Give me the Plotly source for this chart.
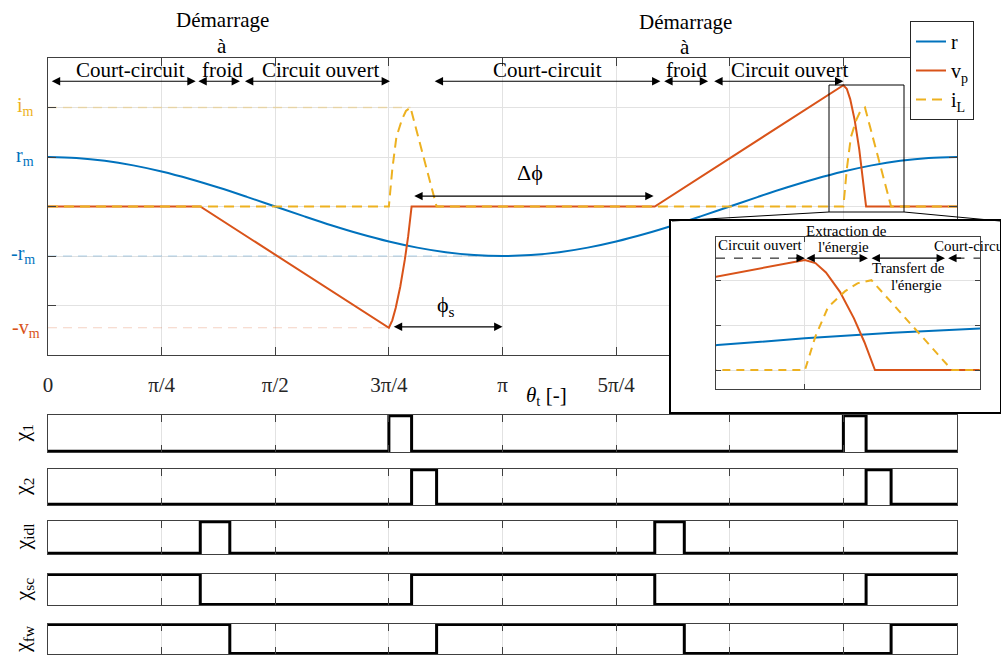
import plotly.graph_objects as go

W, H = 1001, 656
def px(x): return x / W
def py(y): return 1 - y / H

FONT = "Liberation Serif, Times New Roman, serif"
BLUE = "#0072BD"; ORANGE = "#D95319"; YELLOW = "#EDB120"
AX = "#404040"; GRID = "#e2e2e2"; TXT = "#000000"

# ---------------- data (theta_t expressed in units of pi/4) ----------------
tick_vals = [0, 1, 2, 3, 4, 5, 6, 7, 8]
tick_text = ["0", "π/4", "π/2", "3π/4", "π", "5π/4", "3π/2", "7π/4", "2π"]

theta_r = [0, 0.25, 0.5, 0.75, 1, 1.25, 1.5, 1.75, 2, 2.25, 2.5, 2.75, 3, 3.25, 3.5, 3.75,
           4, 4.25, 4.5, 4.75, 5, 5.25, 5.5, 5.75, 6, 6.25, 6.5, 6.75, 7, 7.25, 7.5, 7.75, 8]
r_vals = [1.0, 0.981, 0.924, 0.831, 0.707, 0.556, 0.383, 0.195, 0.0, -0.195, -0.383, -0.556,
          -0.707, -0.831, -0.924, -0.981, -1.0, -0.981, -0.924, -0.831, -0.707, -0.556, -0.383,
          -0.195, 0.0, 0.195, 0.383, 0.556, 0.707, 0.831, 0.924, 0.981, 1.0]

theta_vp = [0, 1.34, 3.0, 3.03, 3.06, 3.1, 3.14, 3.17, 3.2, 5.34, 7.0, 7.03, 7.06, 7.1, 7.14, 7.17, 7.2, 8]
vp_vals = [0, 0, -2.45, -2.30, -2.05, -1.62, -1.08, -0.60, 0, 0, 2.45, 2.38, 2.17, 1.74, 1.15, 0.62, 0, 0]

theta_iL = [0, 3.0, 3.03, 3.066, 3.114, 3.15, 3.19, 3.42, 7.0, 7.03, 7.066, 7.114, 7.15, 7.19, 7.42, 8]
iL_vals = [0, 0, 0.75, 1.4, 1.75, 1.93, 2.0, 0, 0, 0.75, 1.4, 1.75, 1.93, 2.0, 0, 0]

i_m, r_m, v_m = 2.0, 1.0, 2.45

chi_names = ["χ<sub>1</sub>", "χ<sub>2</sub>", "χ<sub>idl</sub>", "χ<sub>sc</sub>", "χ<sub>fw</sub>"]
chi1_t = [0, 3.0, 3.2, 7.0, 7.2, 8];    chi1_v = [0, 1, 0, 1, 0, 0]
chi2_t = [0, 3.2, 3.42, 7.2, 7.42, 8];  chi2_v = [0, 1, 0, 1, 0, 0]
chiidl_t = [0, 1.34, 1.6, 5.34, 5.6, 8]; chiidl_v = [0, 1, 0, 1, 0, 0]
chisc_t = [0, 1.34, 3.2, 5.34, 7.2, 8];  chisc_v = [1, 0, 1, 0, 1, 1]
chifw_t = [0, 1.6, 3.42, 5.6, 7.42, 8];  chifw_v = [1, 0, 1, 0, 1, 1]
chi_series = [(chi1_t, chi1_v), (chi2_t, chi2_v), (chiidl_t, chiidl_v),
              (chisc_t, chisc_v), (chifw_t, chifw_v)]

fig = go.Figure()

# ---------------- main panel ----------------
fig.add_trace(go.Scatter(x=[0, 3.19], y=[i_m, i_m], mode="lines", opacity=0.3,
                         line=dict(color=YELLOW, width=1.5, dash="9px,6px"), showlegend=False, hoverinfo="skip"))
fig.add_trace(go.Scatter(x=[0, 4], y=[-r_m, -r_m], mode="lines", opacity=0.3,
                         line=dict(color=BLUE, width=1.2, dash="9px,6px"), showlegend=False, hoverinfo="skip"))
fig.add_trace(go.Scatter(x=[0, 3.0], y=[-v_m, -v_m], mode="lines", opacity=0.25,
                         line=dict(color=ORANGE, width=1.2, dash="9px,6px"), showlegend=False, hoverinfo="skip"))

fig.add_trace(go.Scatter(x=theta_r, y=r_vals, mode="lines", name="r",
                         line=dict(color=BLUE, width=2, shape="spline")))
fig.add_trace(go.Scatter(x=theta_vp, y=vp_vals, mode="lines", name="v<sub>p</sub>",
                         line=dict(color=ORANGE, width=2)))
fig.add_trace(go.Scatter(x=theta_iL, y=iL_vals, mode="lines", name="i<sub>L</sub>",
                         line=dict(color=YELLOW, width=2, dash="10px,6px")))

# ---------------- switching signals ----------------
for k, (t, v) in enumerate(chi_series):
    n = k + 2
    fig.add_trace(go.Scatter(x=t, y=v, mode="lines", line=dict(color="black", width=3, shape="hv"),
                             xaxis=f"x{n}", yaxis=f"y{n}", showlegend=False, hoverinfo="skip"))

# ---------------- inset frame (dummy subplot) ----------------
fig.add_trace(go.Scatter(x=[], y=[], xaxis="x7", yaxis="y7", showlegend=False, hoverinfo="skip"))

# ---------------- inset ----------------
fig.add_trace(go.Scatter(x=theta_r, y=r_vals, mode="lines", line=dict(color=BLUE, width=2, shape="spline"),
                         xaxis="x8", yaxis="y8", showlegend=False, hoverinfo="skip"))
fig.add_trace(go.Scatter(x=theta_vp, y=vp_vals, mode="lines", line=dict(color=ORANGE, width=2),
                         xaxis="x8", yaxis="y8", showlegend=False, hoverinfo="skip"))
fig.add_trace(go.Scatter(x=theta_iL, y=iL_vals, mode="lines", line=dict(color=YELLOW, width=2, dash="8px,6px"),
                         xaxis="x8", yaxis="y8", showlegend=False, hoverinfo="skip"))

# ---------------- axes ----------------
xdom = [px(48), px(957)]
layout = dict(
    template="none",
    width=W, height=H, margin=dict(l=0, r=0, t=0, b=0, pad=0, autoexpand=False),
    paper_bgcolor="white", plot_bgcolor="white",
    font=dict(family=FONT, size=20, color=TXT),
    showlegend=True,
    legend=dict(x=px(910), y=py(21), xanchor="left", yanchor="top", bgcolor="white",
                bordercolor="#262626", borderwidth=1, font=dict(family=FONT, size=20, color=TXT),
                itemwidth=30, tracegroupgap=0),
)
common = dict(automargin=False, zeroline=False)
layout["xaxis"] = dict(domain=xdom, range=[0, 8], tickvals=tick_vals, ticktext=tick_text,
                       ticks="inside", ticklen=8, tickcolor=AX, showline=True, linecolor=AX, mirror="ticks",
                       showgrid=True, gridcolor=GRID, anchor="y",
                       tickfont=dict(family=FONT, size=21, color="#262626"), ticklabelstandoff=11, **common)
layout["yaxis"] = dict(domain=[py(355), py(58)], range=[-3, 3], tickvals=[-2, -1, 0, 1, 2],
                       showticklabels=False, ticks="inside", ticklen=8, tickcolor=AX, showline=True,
                       linecolor=AX, mirror="ticks", showgrid=True, gridcolor=GRID, anchor="x", **common)

panels = [(415, 452), (469, 505), (521, 554), (574, 605), (624, 654)]
for k, (top, bot) in enumerate(panels):
    n = k + 2
    layout[f"xaxis{n}"] = dict(domain=xdom, range=[0, 8], tickvals=tick_vals, showticklabels=False,
                               ticks="inside", ticklen=7, tickcolor=AX, showline=True, linecolor=AX,
                               mirror="ticks", showgrid=True, gridcolor=GRID, anchor=f"y{n}", **common)
    layout[f"yaxis{n}"] = dict(domain=[py(bot), py(top)], range=[-0.02, 1.02], showticklabels=False,
                               ticks="", showline=True, linecolor=AX, mirror=True, showgrid=False,
                               anchor=f"x{n}", **common)

layout["xaxis7"] = dict(domain=[px(671), px(1000)], range=[0, 1], showticklabels=False, ticks="",
                        showline=True, linecolor="black", linewidth=1.5, mirror=True, showgrid=False,
                        anchor="y7", **common)
layout["yaxis7"] = dict(domain=[py(412), py(221)], range=[0, 1], showticklabels=False, ticks="",
                        showline=True, linecolor="black", linewidth=1.5, mirror=True, showgrid=False,
                        anchor="x7", **common)
layout["xaxis8"] = dict(domain=[px(716), px(980)], range=[6.746, 7.5], tickvals=[7], showticklabels=False,
                        ticks="inside", ticklen=5, tickcolor=AX, showline=True, linecolor=AX, mirror="ticks",
                        showgrid=True, gridcolor=GRID, anchor="y8", **common)
layout["yaxis8"] = dict(domain=[py(389), py(237)], range=[-0.42, 2.96], tickvals=[0, 1, 2],
                        showticklabels=False, ticks="inside", ticklen=5, tickcolor=AX, showline=True,
                        linecolor=AX, mirror="ticks", showgrid=True, gridcolor=GRID,
                        anchor="x8", **common)
fig.update_layout(**layout)

# ---------------- annotations ----------------
ann = []
def text(s, x, y, size=21, color=TXT, xanchor="center", angle=0):
    ann.append(dict(text=s, x=px(x), y=py(y), xref="paper", yref="paper", showarrow=False,
                    xanchor=xanchor, yanchor="middle", textangle=angle,
                    font=dict(family=FONT, size=size, color=color)))

def darrow(x0, x1, y, xr="x", yr="y", both=True):
    ann.append(dict(text="", x=x1, y=y, ax=x0, ay=y, xref=xr, yref=yr, axref=xr, ayref=yr,
                    showarrow=True, arrowhead=2, startarrowhead=2,
                    arrowside="end+start" if both else "end",
                    arrowsize=1.4, startarrowsize=1.4, arrowwidth=1.2, arrowcolor="black",
                    standoff=0, startstandoff=0, font=dict(family=FONT, size=12, color=TXT)))

# top state arrows
ya = 2.53
for a, b in [(0.02, 1.30), (1.31, 1.69), (1.72, 3.01), (3.39, 5.39), (5.41, 5.81), (5.85, 7.0)]:
    darrow(a, b, ya)
text("Court-circuit", 130, 70)
text("Démarrage", 222, 20); text("à", 222, 46); text("froid", 222, 70)
text("Circuit ouvert", 320, 70)
text("Court-circuit", 547, 70)
text("Démarrage", 685, 22); text("à", 685, 47); text("froid", 686, 70)
text("Circuit ouvert", 789, 70)

# phase arrows
darrow(3.21, 5.33, 0.21)
text("Δϕ", 530, 173, size=22)
darrow(3.03, 4.0, -2.43)
text("ϕ<sub>s</sub>", 446, 306, size=22)

# y labels
text("i<sub>m</sub>", 36, 107, size=20, color=YELLOW, xanchor="right")
text("r<sub>m</sub>", 36, 156, size=20, color=BLUE, xanchor="right")
text("-r<sub>m</sub>", 37, 255, size=20, color=BLUE, xanchor="right")
text("-v<sub>m</sub>", 42, 328, size=20, color=ORANGE, xanchor="right")

# x title
text("<i>θ</i><sub>t</sub> [-]", 546, 396, size=21)

# chi labels
for name, (top, bot) in zip(chi_names, panels):
    text(name, 23, (top + bot) / 2, size=22, angle=-90)

# inset annotations
yi = 2.49
darrow(6.97, 7.0, yi, "x8", "y8", both=False)
darrow(7.0, 7.18, yi, "x8", "y8")
darrow(7.186, 7.40, yi, "x8", "y8")
darrow(7.45, 7.409, yi, "x8", "y8", both=False)
text("Circuit ouvert", 760, 245, size=15)
text("Extraction de", 846, 231, size=15)
text("l'énergie", 843, 247, size=15)
text("Transfert de", 908, 268, size=15)
text("l'énergie", 916, 285, size=15)
text("Court-circuit", 932, 246, size=15, xanchor="left")

fig.update_layout(annotations=ann)

# ---------------- shapes: zoom box, connectors, dashed inset guides ----------------
shapes = [
    dict(type="rect", xref="paper", yref="paper", x0=px(829), x1=px(904), y0=py(212), y1=py(85),
         line=dict(color="black", width=1), layer="above"),
    dict(type="line", xref="paper", yref="paper", x0=px(829), y0=py(212), x1=px(672), y1=py(221),
         line=dict(color="black", width=1), layer="above"),
    dict(type="line", xref="paper", yref="paper", x0=px(904), y0=py(212), x1=px(1000), y1=py(221),
         line=dict(color="black", width=1), layer="above"),
    dict(type="line", xref="x8", yref="y8", x0=6.746, x1=6.98, y0=yi, y1=yi,
         line=dict(color="black", width=1, dash="dash"), layer="above"),
    dict(type="line", xref="x8", yref="y8", x0=7.43, x1=7.5, y0=yi, y1=yi,
         line=dict(color="black", width=1, dash="dash"), layer="above"),
]
fig.update_layout(shapes=shapes)

fig.write_html("out.html", config={"responsive": False, "displayModeBar": False},
               post_script="document.body.style.margin='0';document.body.style.overflow='hidden';")
